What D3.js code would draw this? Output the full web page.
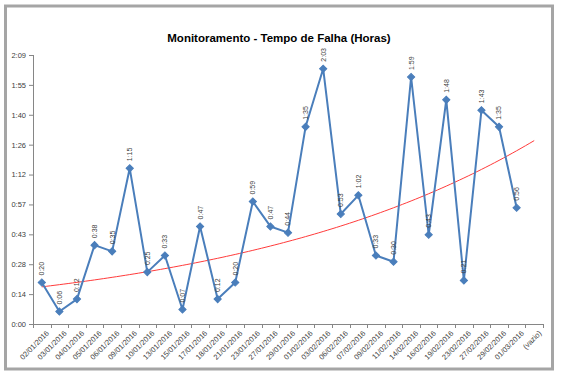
<!DOCTYPE html>
<html>
<head>
<meta charset="utf-8">
<script src="https://cdn.jsdelivr.net/npm/d3@7"></script>
<style>
  body { margin: 0; background: #fff; }
  text { font-family: "Liberation Sans", Arial, sans-serif; }
</style>
</head>
<body>
<svg id="chart" width="561" height="375"></svg>
<script>
var datas = ["02/01/2016", "03/01/2016", "04/01/2016", "05/01/2016", "06/01/2016",
  "09/01/2016", "10/01/2016", "13/01/2016", "15/01/2016", "17/01/2016",
  "18/01/2016", "21/01/2016", "23/01/2016", "27/01/2016", "29/01/2016",
  "01/02/2016", "03/02/2016", "06/02/2016", "07/02/2016", "09/02/2016",
  "11/02/2016", "14/02/2016", "16/02/2016", "19/02/2016", "23/02/2016",
  "27/02/2016", "29/02/2016", "01/03/2016", "(vazio)"];

var tempos = ["0:20", "0:06", "0:12", "0:38", "0:35", "1:15", "0:25", "0:33", "0:07", "0:47",
  "0:12", "0:20", "0:59", "0:47", "0:44", "1:35", "2:03", "0:53", "1:02", "0:33",
  "0:30", "1:59", "0:43", "1:48", "0:21", "1:43", "1:35", "0:56"];

// eixo do excel: 0,01 dia por divisao (14,4 min)
var tickMinutos = [0, 14.4, 28.8, 43.2, 57.6, 72, 86.4, 100.8, 115.2, 129.6];
var tickLabels = ["0:00", "0:14", "0:28", "0:43", "0:57", "1:12", "1:26", "1:40", "1:55", "2:09"];

var titulo = "Monitoramento - Tempo de Falha (Horas)";

(function () {
  var margin = { top: 55, right: 18, bottom: 51, left: 33 },
    width = 561 - margin.left - margin.right,
    height = 375 - margin.top - margin.bottom;

  function minutos(s) {
    var p = s.split(":");
    return (+p[0]) * 60 + (+p[1]);
  }

  var data = tempos.map(function (t, i) {
    return { data: datas[i], label: t, valor: minutos(t), i: i };
  });

  var svg = d3.select("#chart");

  // moldura
  svg.append("rect")
    .attr("x", 5.5).attr("y", 6)
    .attr("width", 547).attr("height", 363)
    .attr("fill", "none")
    .attr("stroke", "#a5a5a5")
    .attr("stroke-width", 3);

  svg.append("text")
    .attr("x", 279)
    .attr("y", 42)
    .attr("text-anchor", "middle")
    .attr("font-weight", "bold")
    .attr("font-size", "11.5px")
    .attr("fill", "#000")
    .text(titulo);

  var g = svg.append("g")
    .attr("transform", "translate(" + margin.left + "," + margin.top + ")");

  var x = d3.scaleBand()
    .domain(datas)
    .range([0, width]);

  var y = d3.scaleLinear()
    .domain([0, tickMinutos[tickMinutos.length - 1]])
    .range([height, 0]);

  function cx(i) {
    return x(datas[i]) + x.bandwidth() / 2;
  }

  // eixo y
  var yAxis = g.append("g")
    .call(d3.axisLeft(y)
      .tickValues(tickMinutos)
      .tickSize(4)
      .tickPadding(3)
      .tickFormat(function (d, i) { return tickLabels[i]; }));
  yAxis.select(".domain").attr("stroke", "#868686").attr("d", "M0.5,0V" + height);
  yAxis.selectAll(".tick line").attr("stroke", "#868686");
  yAxis.selectAll(".tick text")
    .attr("font-size", "7.5px")
    .attr("fill", "#404040")
    .style("font-family", "Liberation Sans, Arial, sans-serif");

  // eixo x
  var xAxis = g.append("g")
    .attr("transform", "translate(0," + height + ")");
  xAxis.append("line")
    .attr("x1", 0).attr("x2", width)
    .attr("y1", 0.5).attr("y2", 0.5)
    .attr("stroke", "#868686");
  xAxis.selectAll(".tk")
    .data(d3.range(datas.length + 1))
    .enter().append("line")
    .attr("class", "tk")
    .attr("x1", function (d) { return Math.round(d * x.bandwidth()) + 0.5; })
    .attr("x2", function (d) { return Math.round(d * x.bandwidth()) + 0.5; })
    .attr("y1", 0).attr("y2", 4)
    .attr("stroke", "#868686");
  xAxis.selectAll(".lbl")
    .data(datas)
    .enter().append("text")
    .attr("class", "lbl")
    .attr("font-size", "7.5px")
    .attr("fill", "#404040")
    .attr("text-anchor", "end")
    .attr("transform", function (d) {
      return "translate(" + (x(d) + x.bandwidth() / 2 + 4) + ",6) rotate(-45)";
    })
    .attr("dy", "0.7em")
    .text(function (d) { return d; });

  // linha de tendencia exponencial (minimos quadrados em ln y)
  var n = data.length;
  var mx = d3.mean(data, function (d) { return d.i; });
  var my = d3.mean(data, function (d) { return Math.log(d.valor); });
  var sxy = d3.sum(data, function (d) { return (d.i - mx) * (Math.log(d.valor) - my); });
  var sxx = d3.sum(data, function (d) { return (d.i - mx) * (d.i - mx); });
  var b = sxy / sxx;
  var a = Math.exp(my - b * mx);
  var trend = d3.range(0, datas.length - 1 + 0.001, 0.25).map(function (t) {
    return [x(datas[0]) + x.bandwidth() / 2 + t * x.step(), y(a * Math.exp(b * t))];
  });
  g.append("path")
    .datum(trend)
    .attr("fill", "none")
    .attr("stroke", "#ff3b3b")
    .attr("stroke-width", 1)
    .attr("d", d3.line());

  // serie
  g.append("path")
    .datum(data)
    .attr("fill", "none")
    .attr("stroke", "#4a7ebb")
    .attr("stroke-width", 2)
    .attr("stroke-linejoin", "round")
    .attr("d", d3.line()
      .x(function (d) { return cx(d.i); })
      .y(function (d) { return y(d.valor); }));

  g.selectAll(".marker")
    .data(data)
    .enter().append("path")
    .attr("class", "marker")
    .attr("d", d3.symbol().type(d3.symbolSquare).size(26))
    .attr("fill", "#4a7ebb")
    .attr("stroke", "#4a7ebb")
    .attr("transform", function (d) {
      return "translate(" + cx(d.i) + "," + y(d.valor) + ") rotate(45)";
    });

  // rotulos de dados
  g.selectAll(".dlabel")
    .data(data)
    .enter().append("text")
    .attr("class", "dlabel")
    .attr("font-size", "7px")
    .attr("fill", "#404040")
    .attr("text-anchor", "start")
    .attr("dy", "0.35em")
    .attr("transform", function (d) {
      return "translate(" + cx(d.i) + "," + (y(d.valor) - 7) + ") rotate(-90)";
    })
    .text(function (d) { return d.label; });
})();
</script>
</body>
</html>
